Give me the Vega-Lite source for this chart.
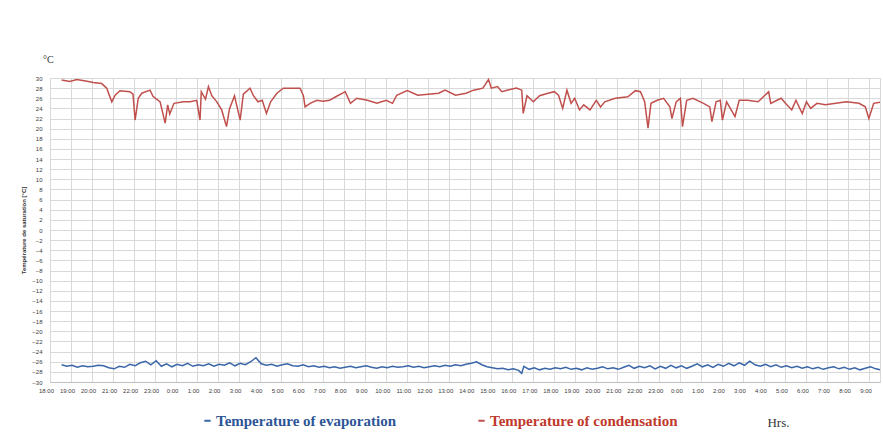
{
  "$schema": "https://vega.github.io/schema/vega-lite/v6.json",
  "width": 830,
  "height": 304,
  "autosize": "none",
  "padding": {"left": 50, "top": 78, "right": 3, "bottom": 64},
  "background": "white",
  "title": {"text": "°C", "anchor": "start", "frame": "group", "fontSize": 10, "font": "Liberation Serif", "fontWeight": "normal", "color": "#333333", "dx": -7, "offset": 10},
  "config": {"view": {"stroke": "#d9d9d9"}},
  "datasets": {
    "cond": [
      {"h":0.55,"t":29.6},{"h":0.95,"t":29.3},{"h":1.27,"t":29.7},{"h":1.7,"t":29.4},{"h":2.06,"t":29.1},{"h":2.46,"t":28.9},{"h":2.7,"t":28.0},{"h":2.94,"t":25.3},{"h":3.1,"t":26.6},{"h":3.33,"t":27.5},{"h":3.8,"t":27.3},{"h":3.95,"t":26.8},{"h":4.05,"t":21.7},{"h":4.2,"t":26.0},{"h":4.37,"t":27.0},{"h":4.76,"t":27.6},{"h":4.9,"t":26.4},{"h":5.24,"t":25.3},{"h":5.48,"t":21.1},{"h":5.6,"t":24.7},{"h":5.7,"t":22.9},{"h":5.9,"t":25.0},{"h":6.35,"t":25.3},{"h":6.67,"t":25.3},{"h":6.98,"t":25.6},{"h":7.14,"t":21.7},{"h":7.2,"t":27.3},{"h":7.4,"t":25.8},{"h":7.54,"t":28.3},{"h":7.7,"t":26.5},{"h":7.94,"t":25.3},{"h":8.17,"t":23.7},{"h":8.4,"t":20.4},{"h":8.54,"t":23.9},{"h":8.78,"t":26.5},{"h":9.05,"t":21.7},{"h":9.2,"t":26.8},{"h":9.52,"t":28.0},{"h":9.68,"t":26.5},{"h":9.9,"t":25.3},{"h":10.1,"t":25.6},{"h":10.3,"t":23.0},{"h":10.5,"t":25.3},{"h":10.8,"t":27.0},{"h":11.1,"t":28.0},{"h":11.9,"t":28.0},{"h":12.06,"t":26.5},{"h":12.14,"t":24.3},{"h":12.38,"t":25.0},{"h":12.7,"t":25.6},{"h":13.0,"t":25.4},{"h":13.3,"t":25.6},{"h":13.6,"t":26.3},{"h":14.05,"t":27.3},{"h":14.3,"t":25.0},{"h":14.6,"t":26.0},{"h":15.1,"t":25.6},{"h":15.56,"t":25.0},{"h":16.0,"t":25.6},{"h":16.3,"t":25.0},{"h":16.5,"t":26.6},{"h":17.0,"t":27.5},{"h":17.5,"t":26.6},{"h":18.0,"t":26.8},{"h":18.5,"t":27.0},{"h":18.8,"t":27.6},{"h":19.3,"t":26.6},{"h":19.8,"t":27.0},{"h":20.16,"t":27.6},{"h":20.6,"t":28.0},{"h":20.87,"t":29.7},{"h":21.0,"t":28.0},{"h":21.3,"t":28.3},{"h":21.5,"t":27.3},{"h":21.75,"t":27.6},{"h":22.2,"t":28.0},{"h":22.45,"t":27.6},{"h":22.52,"t":23.0},{"h":22.7,"t":26.5},{"h":23.0,"t":25.3},{"h":23.3,"t":26.5},{"h":23.7,"t":27.0},{"h":24.0,"t":27.3},{"h":24.2,"t":26.6},{"h":24.4,"t":24.0},{"h":24.6,"t":27.6},{"h":24.8,"t":25.0},{"h":24.97,"t":26.0},{"h":25.2,"t":23.7},{"h":25.4,"t":24.7},{"h":25.7,"t":23.7},{"h":26.0,"t":25.6},{"h":26.2,"t":24.3},{"h":26.4,"t":25.3},{"h":26.9,"t":26.0},{"h":27.5,"t":26.3},{"h":27.86,"t":27.5},{"h":28.1,"t":27.3},{"h":28.3,"t":25.3},{"h":28.46,"t":20.1},{"h":28.6,"t":25.0},{"h":28.9,"t":25.6},{"h":29.2,"t":26.0},{"h":29.5,"t":24.3},{"h":29.6,"t":22.0},{"h":29.8,"t":25.3},{"h":30.0,"t":26.0},{"h":30.1,"t":20.4},{"h":30.3,"t":25.6},{"h":30.6,"t":26.0},{"h":31.1,"t":25.0},{"h":31.4,"t":24.3},{"h":31.5,"t":21.4},{"h":31.7,"t":25.3},{"h":31.9,"t":25.6},{"h":32.0,"t":21.7},{"h":32.2,"t":25.3},{"h":32.6,"t":22.4},{"h":32.8,"t":25.6},{"h":33.2,"t":25.6},{"h":33.7,"t":25.3},{"h":34.0,"t":26.5},{"h":34.2,"t":27.3},{"h":34.3,"t":25.0},{"h":34.6,"t":25.6},{"h":34.8,"t":26.0},{"h":35.0,"t":25.0},{"h":35.3,"t":23.7},{"h":35.5,"t":25.6},{"h":35.8,"t":23.0},{"h":36.0,"t":25.3},{"h":36.2,"t":24.0},{"h":36.5,"t":25.0},{"h":36.9,"t":24.7},{"h":37.4,"t":25.0},{"h":37.9,"t":25.3},{"h":38.5,"t":25.0},{"h":38.8,"t":24.3},{"h":38.97,"t":22.0},{"h":39.2,"t":25.0},{"h":39.5,"t":25.2}
    ],
    "evap": [
      {"h":0.55,"t":-26.6},{"h":0.8,"t":-26.9},{"h":1.05,"t":-26.7},{"h":1.3,"t":-27.1},{"h":1.55,"t":-26.8},{"h":1.8,"t":-27.0},{"h":2.05,"t":-26.9},{"h":2.3,"t":-26.7},{"h":2.55,"t":-26.8},{"h":2.8,"t":-27.2},{"h":3.05,"t":-27.4},{"h":3.3,"t":-26.9},{"h":3.55,"t":-27.1},{"h":3.8,"t":-26.5},{"h":4.05,"t":-26.8},{"h":4.3,"t":-26.2},{"h":4.55,"t":-25.9},{"h":4.8,"t":-26.6},{"h":5.05,"t":-25.8},{"h":5.3,"t":-26.9},{"h":5.55,"t":-26.4},{"h":5.8,"t":-27.0},{"h":6.05,"t":-26.5},{"h":6.3,"t":-26.8},{"h":6.55,"t":-26.3},{"h":6.8,"t":-26.9},{"h":7.05,"t":-26.6},{"h":7.3,"t":-26.8},{"h":7.55,"t":-26.4},{"h":7.8,"t":-26.9},{"h":8.05,"t":-26.5},{"h":8.3,"t":-26.7},{"h":8.55,"t":-26.2},{"h":8.8,"t":-26.8},{"h":9.05,"t":-26.3},{"h":9.3,"t":-26.6},{"h":9.55,"t":-26.0},{"h":9.8,"t":-25.2},{"h":10.05,"t":-26.4},{"h":10.3,"t":-26.7},{"h":10.55,"t":-26.5},{"h":10.8,"t":-26.9},{"h":11.05,"t":-26.6},{"h":11.3,"t":-26.4},{"h":11.55,"t":-26.8},{"h":11.8,"t":-26.9},{"h":12.05,"t":-26.6},{"h":12.3,"t":-27.0},{"h":12.55,"t":-26.8},{"h":12.8,"t":-27.1},{"h":13.05,"t":-26.9},{"h":13.3,"t":-27.2},{"h":13.55,"t":-27.0},{"h":13.8,"t":-27.3},{"h":14.05,"t":-27.1},{"h":14.3,"t":-26.9},{"h":14.55,"t":-27.2},{"h":14.8,"t":-27.0},{"h":15.05,"t":-26.8},{"h":15.3,"t":-27.1},{"h":15.55,"t":-27.3},{"h":15.8,"t":-27.0},{"h":16.05,"t":-27.2},{"h":16.3,"t":-26.9},{"h":16.55,"t":-27.1},{"h":16.8,"t":-27.0},{"h":17.05,"t":-26.8},{"h":17.3,"t":-27.1},{"h":17.55,"t":-26.9},{"h":17.8,"t":-27.2},{"h":18.05,"t":-27.0},{"h":18.3,"t":-26.8},{"h":18.55,"t":-27.0},{"h":18.8,"t":-26.7},{"h":19.05,"t":-26.9},{"h":19.3,"t":-26.6},{"h":19.55,"t":-26.8},{"h":19.8,"t":-26.5},{"h":20.05,"t":-26.3},{"h":20.3,"t":-26.0},{"h":20.55,"t":-26.6},{"h":20.8,"t":-27.0},{"h":21.05,"t":-27.2},{"h":21.3,"t":-27.4},{"h":21.55,"t":-27.3},{"h":21.8,"t":-27.6},{"h":22.05,"t":-27.4},{"h":22.3,"t":-27.7},{"h":22.45,"t":-28.3},{"h":22.55,"t":-26.9},{"h":22.8,"t":-27.5},{"h":23.05,"t":-27.2},{"h":23.3,"t":-27.6},{"h":23.55,"t":-27.3},{"h":23.8,"t":-27.5},{"h":24.05,"t":-27.2},{"h":24.3,"t":-27.4},{"h":24.55,"t":-27.1},{"h":24.8,"t":-27.5},{"h":25.05,"t":-27.3},{"h":25.3,"t":-27.6},{"h":25.55,"t":-27.2},{"h":25.8,"t":-27.5},{"h":26.05,"t":-27.3},{"h":26.3,"t":-27.0},{"h":26.55,"t":-27.4},{"h":26.8,"t":-27.2},{"h":27.05,"t":-27.5},{"h":27.3,"t":-27.1},{"h":27.55,"t":-26.7},{"h":27.8,"t":-27.3},{"h":28.05,"t":-26.9},{"h":28.3,"t":-27.2},{"h":28.55,"t":-26.8},{"h":28.8,"t":-27.4},{"h":29.05,"t":-26.9},{"h":29.3,"t":-27.3},{"h":29.55,"t":-26.7},{"h":29.8,"t":-27.2},{"h":30.05,"t":-26.8},{"h":30.3,"t":-27.3},{"h":30.55,"t":-26.9},{"h":30.8,"t":-26.4},{"h":31.05,"t":-27.0},{"h":31.3,"t":-26.6},{"h":31.55,"t":-27.1},{"h":31.8,"t":-26.5},{"h":32.05,"t":-26.9},{"h":32.3,"t":-26.3},{"h":32.55,"t":-26.8},{"h":32.8,"t":-26.2},{"h":33.05,"t":-26.7},{"h":33.3,"t":-25.9},{"h":33.55,"t":-26.6},{"h":33.8,"t":-26.9},{"h":34.05,"t":-26.5},{"h":34.3,"t":-27.0},{"h":34.55,"t":-26.6},{"h":34.8,"t":-27.1},{"h":35.05,"t":-26.8},{"h":35.3,"t":-27.2},{"h":35.55,"t":-26.9},{"h":35.8,"t":-27.3},{"h":36.05,"t":-27.0},{"h":36.3,"t":-27.4},{"h":36.55,"t":-27.1},{"h":36.8,"t":-27.5},{"h":37.05,"t":-27.2},{"h":37.3,"t":-27.0},{"h":37.55,"t":-27.4},{"h":37.8,"t":-27.1},{"h":38.05,"t":-27.5},{"h":38.3,"t":-27.2},{"h":38.55,"t":-27.6},{"h":38.8,"t":-27.3},{"h":39.05,"t":-27.0},{"h":39.3,"t":-27.4},{"h":39.5,"t":-27.6}
    ]
  },
  "encoding": {
    "x": {
      "field": "h", "type": "quantitative",
      "scale": {"domain": [0, 39.5], "nice": false, "zero": false},
      "axis": {
        "values": [0,1,2,3,4,5,6,7,8,9,10,11,12,13,14,15,16,17,18,19,20,21,22,23,24,25,26,27,28,29,30,31,32,33,34,35,36,37,38,39],
        "labelExpr": "((18 + datum.value) % 24) + ':00'",
        "labelFont": "Liberation Sans", "labelFontSize": 6, "labelColor": "#404040",
        "labelPadding": 5, "labelAngle": 0, "labelOverlap": false, "labelFlush": false, "labelOffset": -4,
        "ticks": false, "domainColor": "#bfbfbf",
        "grid": true, "gridColor": "#d9d9d9",
        "title": "Hrs.", "titleFont": "Liberation Serif", "titleFontSize": 13, "titleFontWeight": "normal", "titleColor": "#333333",
        "titleX": 728, "titleY": 40, "titleAlign": "center", "titleBaseline": "middle"
      }
    },
    "y": {
      "field": "t", "type": "quantitative",
      "scale": {"domain": [-30, 30], "nice": false},
      "axis": {
        "values": [-30,-28,-26,-24,-22,-20,-18,-16,-14,-12,-10,-8,-6,-4,-2,0,2,4,6,8,10,12,14,16,18,20,22,24,26,28,30],
        "labelFont": "Liberation Sans", "labelFontSize": 6, "labelColor": "#404040", "labelPadding": 8,
        "ticks": false, "domain": false, "grid": true, "gridColor": "#d9d9d9",
        "title": "Température de saturation [°C]", "titleFont": "Liberation Sans", "titleFontSize": 6, "titleFontWeight": "bold", "titleColor": "#333333", "titlePadding": 5
      }
    }
  },
  "layer": [
    {
      "data": {"name": "evap"},
      "mark": {"type": "line", "strokeWidth": 1.5, "interpolate": "linear"},
      "encoding": {
        "color": {
          "datum": "E", "type": "nominal",
          "scale": {"domain": ["E", "C"], "range": ["#3a66a8", "#c0504d"]},
          "legend": {
            "orient": "none", "legendX": 150, "legendY": 335, "direction": "horizontal", "title": null,
            "symbolType": "stroke", "symbolSize": 40, "symbolStrokeWidth": 2,
            "labelFont": "Liberation Serif", "labelFontSize": 15, "labelFontWeight": "bold", "labelLimit": 400,
            "columnPadding": 78, "labelOffset": 1,
            "labelExpr": "datum.value == 'E' ? 'Temperature of evaporation' : 'Temperature of condensation'",
            "encode": {"labels": {"update": {
              "fill": {"signal": "datum.value == 'E' ? '#2c5596' : '#c0392b'"},
              "font": {"value": "Liberation Serif"},
              "fontSize": {"value": 15},
              "fontWeight": {"value": "bold"}
            }}}
          }
        }
      }
    },
    {
      "data": {"name": "cond"},
      "mark": {"type": "line", "strokeWidth": 1.5, "interpolate": "linear"},
      "encoding": {"color": {"datum": "C", "type": "nominal"}}
    }
  ]
}
